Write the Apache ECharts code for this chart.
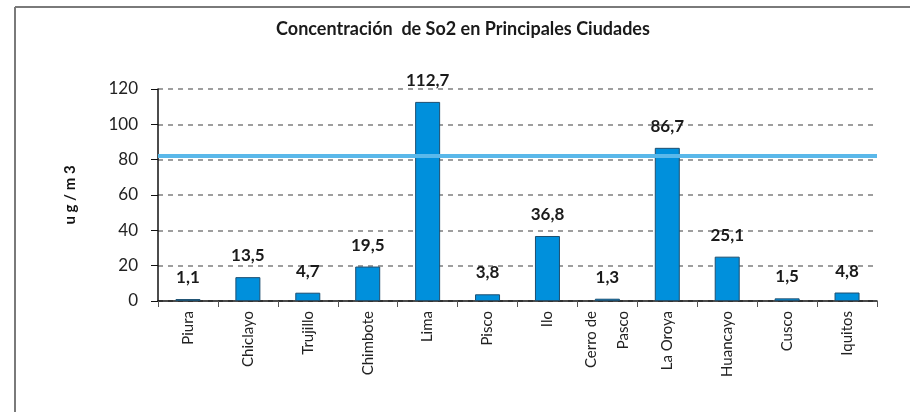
<!DOCTYPE html>
<html>
<head>
<meta charset="utf-8">
<script src="https://cdn.jsdelivr.net/npm/echarts@6/dist/echarts.min.js"></script>
<style>
  html, body { margin: 0; padding: 0; background: #fff; }
  #chart { width: 910px; height: 412px; }
</style>
</head>
<body>
<div id="chart"></div>
<script>
const ciudades = ["Piura", "Chiclayo", "Trujillo", "Chimbote", "Lima", "Pisco", "Ilo",
  "Cerro de\nPasco", "La Oroya", "Huancayo", "Cusco", "Iquitos"];
const so2 = [1.1, 13.5, 4.7, 19.5, 112.7, 3.8, 36.8, 1.3, 86.7, 25.1, 1.5, 4.8];
const limite = 82.5; // linea de referencia celeste
const yTicks = { min: 0, max: 120, interval: 20 };

const chart = echarts.init(document.getElementById("chart"));
const fuente = "Lato, 'DejaVu Sans', sans-serif";

chart.setOption({
  animation: false,
  title: {
    text: "Concentración  de So2 en Principales Ciudades",
    left: 458,
    textAlign: "center",
    top: 15,
    textStyle: { fontFamily: fuente, fontSize: 18, fontWeight: "bold", color: "#1a1a1a" }
  },
  graphic: [
    { type: "line", shape: { x1: 15, y1: 7, x2: 910, y2: 7 }, style: { stroke: "#7a7a7a", lineWidth: 2 } },
    { type: "line", shape: { x1: 15, y1: 7, x2: 15, y2: 412 }, style: { stroke: "#7a7a7a", lineWidth: 2 } }
  ],
  grid: { left: 158, right: 33, top: 89, bottom: 111 },
  xAxis: {
    type: "category",
    data: ciudades,
    axisLine: { lineStyle: { color: "#111", width: 1.5 } },
    axisTick: { show: true, length: 6, lineStyle: { color: "#555" } },
    axisLabel: {
      rotate: 90,
      margin: 10,
      interval: 0,
      fontFamily: fuente,
      fontSize: 15,
      color: "#222",
      lineHeight: 32
    }
  },
  yAxis: {
    type: "value",
    min: yTicks.min,
    max: yTicks.max,
    interval: yTicks.interval,
    name: "u g / m 3",
    nameLocation: "middle",
    nameRotate: 90,
    nameGap: 80,
    nameTextStyle: { fontFamily: fuente, fontSize: 15, fontWeight: "bold", color: "#111" },
    axisLine: { show: true, lineStyle: { color: "#111", width: 1.5 } },
    axisTick: { show: true, length: 7, lineStyle: { color: "#111" } },
    axisLabel: { margin: 20, fontFamily: fuente, fontSize: 17, color: "#222" },
    splitLine: { lineStyle: { color: "#7f7f7f", width: 1.5, type: [5, 5] } }
  },
  series: [
    {
      type: "bar",
      data: so2,
      barWidth: 25,
      itemStyle: { color: "#0090dc", borderColor: "#1d4f70", borderWidth: 1 },
      label: {
        show: true,
        position: "top",
        distance: 13,
        fontFamily: fuente,
        fontSize: 17,
        fontWeight: "bold",
        color: "#1a1a1a",
        formatter: p => String(p.value).replace(".", ",")
      },
      markLine: {
        silent: true,
        symbol: "none",
        label: { show: false },
        lineStyle: { color: "#5ab8ea", width: 4, type: "solid" },
        data: [{ yAxis: limite }]
      }
    }
  ]
});
</script>
</body>
</html>
